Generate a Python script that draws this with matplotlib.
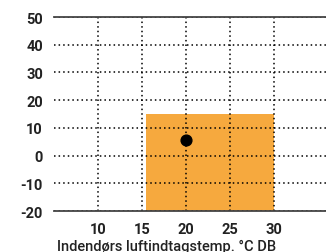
import matplotlib.pyplot as plt

# operating range (indoor intake temp vs outdoor temp)
range_x = [15.5, 30]
range_y = [-20, 15]
point_x = [20]
point_y = [5.5]
x_ticks = [10, 15, 20, 25, 30]
y_ticks = [-20, -10, 0, 10, 20, 30, 40, 50]
x_label = "Indendørs luftindtagstemp. °C DB"

plt.rcParams['font.family'] = ['Roboto', 'DejaVu Sans']
plt.rcParams['axes.unicode_minus'] = False

fig = plt.figure(figsize=(3.26, 2.53), dpi=100)
ax = fig.add_axes([54 / 326, 1 - 212 / 253, 1 - 54 / 326, 194 / 253])

ax.fill_between(range_x, range_y[0], range_y[1], color="#F6A93E", lw=0, zorder=1)
ax.scatter(point_x, point_y, s=60, color="black", zorder=4)

ax.set_xlim(5, 35.9)
ax.set_ylim(-20, 50)
ax.set_xticks(x_ticks)
ax.set_yticks(y_ticks)
ax.tick_params(length=0, labelsize=10.5, pad=8)
for lab in ax.get_xticklabels() + ax.get_yticklabels():
    lab.set_fontweight("semibold")
    lab.set_color("#222222")

ax.grid(True, linestyle=(0, (1, 2)), color="black", lw=1.1, zorder=3)
ax.set_axisbelow(False)
for s in ["left", "right"]:
    ax.spines[s].set_visible(False)
for s in ["top", "bottom"]:
    ax.spines[s].set_color("#444444")
    ax.spines[s].set_linewidth(1.3)
    ax.spines[s].set_zorder(5)

ax.set_xlabel(x_label, fontsize=10.5, color="#222222", fontweight="medium")
ax.xaxis.set_label_coords(0.415, -0.145)

fig.savefig("out.png", dpi=100)
